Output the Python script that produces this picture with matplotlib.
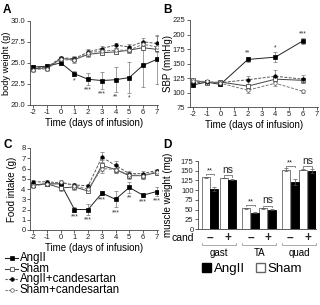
import matplotlib
matplotlib.use("Agg")
import matplotlib.pyplot as plt
from matplotlib.lines import Line2D
from matplotlib.patches import Patch
import numpy as np

plt.rcParams['font.family'] = ['Liberation Sans', 'DejaVu Sans']
plt.rcParams['axes.unicode_minus'] = False

W, H = 320, 305

# ---------------- Data ----------------
days_A = [-2, -1, 0, 1, 2, 3, 4, 5, 6, 7]
bw_angii = [24.5, 24.6, 25.0, 23.7, 23.05, 22.9, 23.0, 23.25, 24.7, 25.4]
bw_angii_err = [0.3, 0.3, 0.3, 0.3, 0.7, 1.0, 1.5, 1.85, 2.6, 2.9]
bw_sham = [24.3, 24.4, 25.5, 25.4, 26.0, 26.2, 26.3, 26.5, 26.8, 26.6]
bw_sham_err = [0.3, 0.3, 0.2, 0.3, 0.3, 0.3, 0.3, 0.3, 0.3, 0.3]
bw_angii_cand = [24.4, 24.5, 25.6, 25.5, 26.3, 26.7, 27.1, 26.9, 27.5, 27.3]
bw_angii_cand_err = [0.3, 0.3, 0.2, 0.3, 0.3, 0.3, 0.3, 0.3, 0.4, 0.9]
bw_sham_cand = [24.2, 24.3, 25.4, 25.3, 26.2, 26.4, 26.5, 26.5, 27.2, 26.9]
bw_sham_cand_err = [0.3, 0.3, 0.2, 0.3, 0.3, 0.3, 0.3, 0.3, 0.3, 0.4]
bw_stars = {1: "*", 2: "***", 3: "***", 4: "**", 5: "*"}

days_B = [-2, -1, 0, 2, 4, 6]
sbp_angii = [113, 118, 114, 157, 161, 189]
sbp_angii_err = [3, 3, 3, 5, 9, 5]
sbp_sham = [121, 117, 118, 111, 123, 121]
sbp_sham_err = [3, 3, 3, 4, 4, 4]
sbp_angii_cand = [117, 118, 117, 122, 128, 123]
sbp_angii_cand_err = [3, 3, 3, 7, 10, 7]
sbp_sham_cand = [120, 119, 116, 104, 116, 102]
sbp_sham_cand_err = [3, 3, 3, 4, 4, 3]
sbp_stars = {2: "**", 4: "*", 6: "***"}

days_C = [-2, -1, 0, 1, 2, 3, 4, 5, 6, 7]
fi_angii = [4.4, 4.5, 4.5, 2.0, 2.0, 3.6, 3.0, 4.15, 3.4, 3.75]
fi_angii_err = [0.2, 0.2, 0.2, 0.2, 0.5, 0.2, 0.8, 0.5, 0.15, 0.4]
fi_sham = [4.4, 4.5, 4.1, 4.2, 3.8, 6.3, 5.9, 5.3, 5.3, 5.6]
fi_sham_err = [0.2, 0.2, 0.3, 0.3, 0.2, 0.5, 0.3, 0.3, 0.3, 0.2]
fi_angii_cand = [4.7, 4.7, 4.6, 4.4, 4.3, 7.1, 6.3, 5.5, 5.5, 5.8]
fi_angii_cand_err = [0.2, 0.2, 0.2, 0.2, 0.2, 0.5, 0.4, 0.3, 0.3, 0.2]
fi_sham_cand = [4.3, 4.5, 4.7, 4.3, 4.0, 6.0, 5.9, 5.4, 5.3, 5.7]
fi_sham_cand_err = [0.2, 0.2, 0.2, 0.2, 0.2, 0.4, 0.3, 0.3, 0.3, 0.2]
fi_stars = {1: "***", 2: "***", 3: "***", 4: "***", 5: "**", 6: "***", 7: "***"}

muscles = ["gast", "TA", "quad"]
cand_labels = ["\u2013", "+"]
mw_sham = [133, 131, 53, 53, 153, 153]
mw_sham_err = [2, 1, 2, 1, 3, 2]
mw_angii = [104, 127, 42, 50, 120, 150]
mw_angii_err = [5, 2, 1, 1, 8, 5]
mw_sig = ["**", "ns", "**", "ns", "**", "ns"]

series_labels = ["AngII", "Sham", "AngII+candesartan", "Sham+candesartan"]

# ---------------- Figure ----------------
fig = plt.figure(figsize=(W / 100, H / 100), dpi=100)


def ax_px(l, r, t, b):
    return fig.add_axes([l / W, 1 - b / H, (r - l) / W, (b - t) / H])


def style(ax):
    for s in ["top", "right"]:
        ax.spines[s].set_visible(False)
    for s in ["left", "bottom"]:
        ax.spines[s].set_linewidth(0.6)
        ax.spines[s].set_color("#444444")
    ax.tick_params(labelsize=5.5, length=2, width=0.5, pad=1.2, colors="#222222")


styles = [
    dict(ls="-", marker="s", mfc="black", mec="black", color="#222222"),
    dict(ls="-", marker="s", mfc="white", mec="#333333", color="#444444"),
    dict(ls="--", marker="o", mfc="black", mec="black", color="#555555"),
    dict(ls="--", marker="o", mfc="white", mec="#555555", color="#777777"),
]


def draw_series(ax, x, ys, errs):
    for y, e, st in zip(ys, errs, styles):
        ax.errorbar(x, y, yerr=e, ls=st["ls"], color=st["color"], lw=0.7,
                    marker=st["marker"], ms=2.5, mfc=st["mfc"], mec=st["mec"],
                    mew=0.5, ecolor="#777777", elinewidth=0.5, capsize=1.2,
                    capthick=0.5, dashes=(3, 1.5) if st["ls"] == "--" else (None, None))


LBL = 7

# Panel A
axA = ax_px(30, 158, 20.7, 105)
style(axA)
draw_series(axA, days_A, [bw_angii, bw_sham, bw_angii_cand, bw_sham_cand],
            [bw_angii_err, bw_sham_err, bw_angii_cand_err, bw_sham_cand_err])
axA.set_xlim(-2.25, 7.1)
axA.set_ylim(20, 30)
axA.set_yticks([20, 22.5, 25, 27.5, 30])
axA.set_yticklabels(["20.0", "22.5", "25.0", "27.5", "30.0"])
axA.set_xticks(days_A)
axA.set_ylabel("body weight (g)", fontsize=6.7)
axA.yaxis.set_label_coords(-0.15, 0.5)
axA.set_xlabel("Time (days of infusion)", fontsize=LBL, labelpad=1)
for d, s in bw_stars.items():
    i = days_A.index(d)
    axA.text(d, bw_angii[i] - bw_angii_err[i] - 0.15, s, ha="center", va="top",
             fontsize=5, color="#333333")

# Panel B
axB = ax_px(189.5, 318, 20, 107)
style(axB)
draw_series(axB, days_B, [sbp_angii, sbp_sham, sbp_angii_cand, sbp_sham_cand],
            [sbp_angii_err, sbp_sham_err, sbp_angii_cand_err, sbp_sham_cand_err])
axB.set_xlim(-2.25, 7.1)
axB.set_ylim(75, 225)
axB.set_yticks(np.arange(75, 226, 25))
axB.set_xticks(range(-2, 8))
axB.set_ylabel("SBP (mmHg)", fontsize=LBL)
axB.yaxis.set_label_coords(-0.13, 0.5)
axB.set_xlabel("Time (days of infusion)", fontsize=LBL, labelpad=1)
for d, s in sbp_stars.items():
    i = days_B.index(d)
    axB.text(d, sbp_angii[i] + sbp_angii_err[i] + 1, s, ha="center", va="bottom",
             fontsize=5, color="#333333")

# Panel C
axC = ax_px(30, 158, 148, 230)
style(axC)
draw_series(axC, days_C, [fi_angii, fi_sham, fi_angii_cand, fi_sham_cand],
            [fi_angii_err, fi_sham_err, fi_angii_cand_err, fi_sham_cand_err])
axC.set_xlim(-2.25, 7.1)
axC.set_ylim(0, 8)
axC.set_yticks(range(0, 9))
axC.set_xticks(days_C)
axC.set_ylabel("Food intake (g)", fontsize=LBL)
axC.yaxis.set_label_coords(-0.1, 0.5)
axC.set_xlabel("Time (days of infusion)", fontsize=LBL, labelpad=1)
for d, s in fi_stars.items():
    i = days_C.index(d)
    axC.text(d, fi_angii[i] - fi_angii_err[i] - 0.15, s, ha="center", va="top",
             fontsize=5, color="#333333")

# Legend for line panels (manual layout)
for k, (st, lab) in enumerate(zip(styles, series_labels)):
    y = 1 - (258 + 10.7 * k) / H
    fig.add_artist(Line2D([5 / W, 18 / W], [y, y], ls=st["ls"], color=st["color"],
                          lw=0.8, dashes=(2, 1) if st["ls"] == "--" else (None, None)))
    fig.add_artist(Line2D([11.5 / W], [y], marker=st["marker"], ms=2.6,
                          mfc=st["mfc"], mec=st["mec"], mew=0.5, ls="none"))
    fig.text(20 / W, y, lab, fontsize=8.3, va="center", ha="left")

# Panel D
axD = ax_px(198, 316, 161, 229)
style(axD)
pair_pos = [0, 2.1, 4.75, 6.75, 9.4, 11.4]
xs_sham = [p for p in pair_pos]
xs_angii = [p + 1 for p in pair_pos]
axD.bar(xs_sham, mw_sham, width=0.95, color="white", edgecolor="#666666",
        linewidth=0.6, yerr=mw_sham_err, error_kw=dict(elinewidth=0.5, capsize=1.2,
                                                       capthick=0.5, ecolor="#555555"))
axD.bar(xs_angii, mw_angii, width=0.95, color="black", edgecolor="black",
        linewidth=0.6, yerr=mw_angii_err, error_kw=dict(elinewidth=0.5, capsize=1.2,
                                                        capthick=0.5, ecolor="#555555"))
axD.set_xlim(-0.9, 12.9)
axD.set_ylim(0, 175)
axD.set_yticks(np.arange(0, 176, 25))
axD.set_xticks([])
axD.set_ylabel("muscle weight (mg)", fontsize=LBL)
axD.yaxis.set_label_coords(-0.21, 0.5)
for i, p in enumerate(pair_pos):
    top = max(mw_sham[i] + mw_sham_err[i], mw_angii[i] + mw_angii_err[i])
    yb = top + 6
    axD.plot([p, p, p + 1, p + 1], [yb - 3, yb, yb, yb - 3], color="#555555",
             lw=0.5, clip_on=False)
    if mw_sig[i] == "ns":
        axD.text(p + 0.5, yb + 1, "ns", ha="center", va="bottom", fontsize=7.5,
                 color="#222222", clip_on=False)
    else:
        axD.text(p + 0.5, yb - 1, "**", ha="center", va="bottom", fontsize=5.5,
                 color="#222222", clip_on=False)
    axD.text(p + 0.5, -0.13, cand_labels[i % 2], transform=axD.get_xaxis_transform(),
             ha="center", va="center", fontsize=8.5, fontweight="bold", color="#222222")
tr = axD.get_xaxis_transform()
axD.text(-1.35, -0.13, "cand", transform=tr, ha="right", va="center", fontsize=7.5)
for g, name in enumerate(muscles):
    a, b = pair_pos[2 * g] - 0.45, pair_pos[2 * g + 1] + 1.45
    axD.plot([a, a, b, b], [-0.2, -0.23, -0.23, -0.2], transform=tr,
             color="#888888", lw=0.5, clip_on=False)
    axD.text((a + b) / 2, -0.35, name, transform=tr, ha="center", va="center",
             fontsize=7)
fig.legend([Patch(facecolor="black", edgecolor="black"),
            Patch(facecolor="white", edgecolor="#666666")],
           ["AngII", "Sham"], loc="center", bbox_to_anchor=(252 / W, 1 - 269 / H),
           ncol=2, frameon=False, fontsize=9.5, handlelength=0.7, handleheight=0.7,
           handletextpad=0.2, columnspacing=0.8, borderpad=0)

# Panel letters
for lab, x, y in [("A", 3, 4), ("B", 163, 4), ("C", 3, 139), ("D", 163, 139)]:
    fig.text(x / W, 1 - y / H, lab, fontsize=8.5, fontweight="bold", va="top")

fig.savefig("out.png", dpi=100)
